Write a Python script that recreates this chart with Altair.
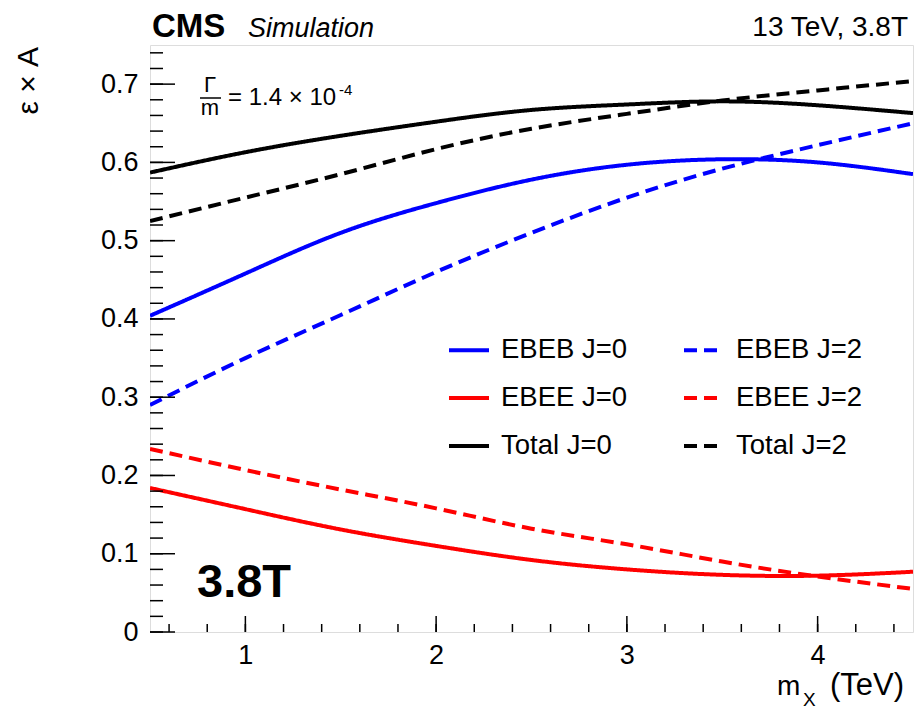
import altair as alt
import pandas as pd

FONT = "Liberation Sans"

# ---- data ----
mx = [0.5, 1.0, 1.5, 2.0, 2.5, 3.0, 3.5, 4.0, 4.5]
ebeb_j0 = [0.404, 0.458, 0.510, 0.548, 0.578, 0.597, 0.604, 0.600, 0.585]
ebeb_j2 = [0.290, 0.350, 0.405, 0.460, 0.510, 0.555, 0.592, 0.622, 0.650]
ebee_j0 = [0.184, 0.157, 0.131, 0.110, 0.092, 0.080, 0.073, 0.072, 0.077]
ebee_j2 = [0.234, 0.207, 0.182, 0.158, 0.132, 0.112, 0.090, 0.071, 0.055]
total_j0 = [0.587, 0.613, 0.634, 0.652, 0.667, 0.674, 0.678, 0.673, 0.663]
total_j2 = [0.525, 0.555, 0.585, 0.617, 0.643, 0.662, 0.679, 0.692, 0.704]

# legend is filled column by column: J=0 column first, then J=2 column
series_names = ["EBEB J=0", "EBEE J=0", "Total J=0", "EBEB J=2", "EBEE J=2", "Total J=2"]
series_vals = [ebeb_j0, ebee_j0, total_j0, ebeb_j2, ebee_j2, total_j2]
series_colors = ["#0000ff", "#ff0000", "#000000", "#0000ff", "#ff0000", "#000000"]
series_dash = [[1, 0], [1, 0], [1, 0], [13, 7], [13, 7], [13, 7]]

y_major = [0.0, 0.1, 0.2, 0.3, 0.4, 0.5, 0.6, 0.7]
y_minor = [round(0.02 * i, 2) for i in range(0, 38)]
x_major = [1, 2, 3, 4]
x_minor = [round(0.6 + 0.2 * i, 1) for i in range(0, 20)]

rows = []
for name, vals in zip(series_names, series_vals):
    for xv, yv in zip(mx, vals):
        rows.append({"mx": xv, "val": yv, "series": name})
df = pd.DataFrame(rows)

W, H = 763, 587
xs = alt.Scale(domain=[0.5, 4.5], nice=False, zero=False)
ys = alt.Scale(domain=[0, 0.75], nice=False, zero=True)

lines = alt.Chart(df).mark_line(strokeWidth=4, interpolate="natural", clip=True).encode(
    x=alt.X("mx:Q", scale=xs, title=None,
            axis=alt.Axis(values=x_major, format="d", ticks=False, domain=False, grid=False,
                          labelFontSize=27, labelFont=FONT, labelColor="black", labelPadding=10)),
    y=alt.Y("val:Q", scale=ys, title=None,
            axis=alt.Axis(values=y_major, ticks=False, domain=False, grid=False,
                          labelExpr="datum.value == 0 ? '0' : format(datum.value, '.1f')",
                          labelFontSize=27, labelFont=FONT, labelColor="black", labelPadding=12)),
    color=alt.Color("series:N", title=None,
                    scale=alt.Scale(domain=series_names, range=series_colors),
                    legend=alt.Legend(orient="none", legendX=297, legendY=283, columns=2,
                                      symbolType="stroke", symbolSize=1600, symbolStrokeWidth=4,
                                      labelFontSize=27.5, labelFont=FONT, labelColor="black",
                                      labelOffset=10, columnPadding=48, rowPadding=12, padding=0,
                                      labelLimit=400)),
    strokeDash=alt.StrokeDash("series:N", title=None,
                              scale=alt.Scale(domain=series_names, range=series_dash)),
)

ymaj = alt.Chart(pd.DataFrame({"val": y_major})).mark_rule(color="black", strokeWidth=1.5).encode(
    y=alt.Y("val:Q", scale=ys), x=alt.value(0), x2=alt.value(25))
ymin = alt.Chart(pd.DataFrame({"val": y_minor})).mark_rule(color="black", strokeWidth=1.5).encode(
    y=alt.Y("val:Q", scale=ys), x=alt.value(0), x2=alt.value(13))
xmaj = alt.Chart(pd.DataFrame({"mx": x_major})).mark_rule(color="black", strokeWidth=1.5).encode(
    x=alt.X("mx:Q", scale=xs), y=alt.value(H), y2=alt.value(H - 16))
xmin = alt.Chart(pd.DataFrame({"mx": x_minor})).mark_rule(color="black", strokeWidth=1.5).encode(
    x=alt.X("mx:Q", scale=xs), y=alt.value(H), y2=alt.value(H - 8))


def label(text, x, y, size, align="left", weight="normal", style="normal", angle=0):
    kw = dict(fontSize=size, font=FONT, align=align, baseline="alphabetic", color="black",
              fontWeight=weight, fontStyle=style)
    if angle:
        kw["angle"] = angle
    return alt.Chart(pd.DataFrame({"t": [text]})).mark_text(**kw).encode(
        x=alt.value(x), y=alt.value(y), text="t:N")


texts = [
    label("CMS", 2, -8, 33, weight="bold"),
    label("Simulation", 98, -8, 27, style="italic"),
    label("13 TeV, 3.8T", 758, -9, 28, align="right"),
    label("3.8T", 47, 552, 47, weight="bold"),
    label("Γ", 60, 47, 22, align="center"),
    label("m", 60, 70, 22, align="center"),
    label("= 1.4 × 10", 78, 60, 24),
    label("-4", 189, 50, 15),
    label("ε  ×  A", -112, 2, 30, align="right", angle=270),
    label("m", 627, 650, 28),
    label("X", 653, 661, 19),
    label("(TeV)", 680, 650, 31),
]

frac_bar = alt.Chart(pd.DataFrame({"k": [0]})).mark_rule(color="black", strokeWidth=1.5).encode(
    x=alt.value(50), x2=alt.value(71), y=alt.value(53))

chart = alt.layer(lines, ymin, ymaj, xmin, xmaj, frac_bar, *texts).properties(
    width=W, height=H,
    autosize=alt.AutoSizeParams(type="none"),
    padding={"left": 150, "top": 45, "right": 5, "bottom": 77},
).configure_view(stroke="black", strokeWidth=1.5).configure(background="white")

chart.save("out.html", embed_options={"renderer": "svg", "actions": False})
